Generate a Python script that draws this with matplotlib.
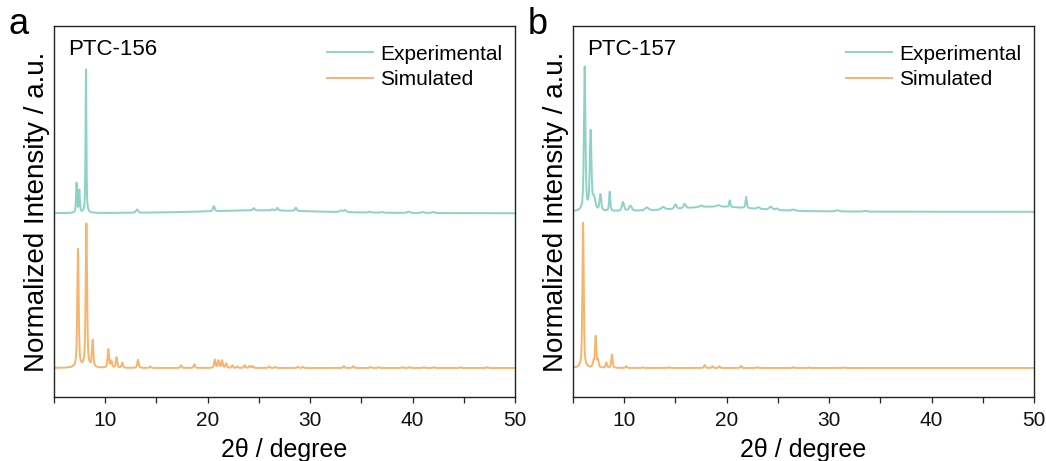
import numpy as np
import matplotlib
matplotlib.use("Agg")
import matplotlib.pyplot as plt
from matplotlib.ticker import MultipleLocator

plt.rcParams['font.family'] = ['Liberation Sans', 'DejaVu Sans']

# ---- data: peak positions (2theta), heights, FWHM ----
# PTC-156 experimental
exp156_pos = [7.20, 7.47, 8.12, 13.1, 20.6, 24.5, 26.3, 26.8, 28.6, 33.0, 33.4, 35.8, 37.0, 39.6, 41.0, 42.0, 25.0]
exp156_hgt = [0.20, 0.15, 0.97, 0.022, 0.035, 0.015, 0.008, 0.018, 0.022, 0.01, 0.014, 0.006, 0.005, 0.01, 0.007, 0.007, 0.02]
exp156_wid = [0.12, 0.12, 0.10, 0.25, 0.20, 0.20, 0.2, 0.20, 0.20, 0.3, 0.3, 0.3, 0.3, 0.3, 0.3, 0.3, 14.0]
exp156_offset = 1.045

# PTC-156 simulated
sim156_pos = [7.34, 8.16, 8.77, 10.3, 10.6, 11.1, 11.67, 13.2, 14.4, 17.4, 18.7,
              20.7, 21.05, 21.4, 21.8, 22.4, 22.9, 23.6, 24.1, 24.4, 26.0, 26.6, 28.8, 29.3,
              33.3, 34.2, 35.9, 36.7, 39.0, 39.7, 41.1, 42.1, 44.7, 47.3]
sim156_hgt = [0.80, 0.97, 0.18, 0.125, 0.045, 0.07, 0.035, 0.055, 0.01, 0.018, 0.025,
              0.055, 0.05, 0.05, 0.03, 0.018, 0.01, 0.018, 0.015, 0.012, 0.01, 0.008, 0.008, 0.008,
              0.012, 0.012, 0.008, 0.006, 0.006, 0.006, 0.006, 0.006, 0.005, 0.006]
sim156_wid = [0.16] * len(sim156_pos)

# PTC-157 experimental
exp157_pos = [6.14, 6.72, 7.05, 7.67, 8.58, 9.88, 10.6, 12.2, 13.8, 15.0, 15.9, 17.5,
              19.2, 20.3, 21.9, 23.1, 24.3, 24.9, 26.5, 30.8, 33.5, 19.0]
exp157_hgt = [0.97, 0.53, 0.08, 0.11, 0.13, 0.06, 0.035, 0.02, 0.018, 0.03, 0.03, 0.01,
              0.01, 0.045, 0.075, 0.012, 0.02, 0.01, 0.008, 0.008, 0.005, 0.035]
exp157_wid = [0.17, 0.19, 0.3, 0.2, 0.14, 0.25, 0.3, 0.4, 0.4, 0.25, 0.25, 0.4,
              0.4, 0.15, 0.15, 0.3, 0.35, 0.3, 0.4, 0.4, 0.4, 9.0]
exp157_offset = 1.055

# PTC-157 simulated
sim157_pos = [5.98, 7.00, 7.21, 7.44, 8.25, 8.80, 10.2, 11.8, 14.4, 17.85, 18.6, 19.3,
              21.4, 23.0, 26.5, 28.0, 31.5]
sim157_hgt = [0.98, 0.04, 0.21, 0.05, 0.035, 0.09, 0.012, 0.005, 0.005, 0.02, 0.012, 0.012,
              0.014, 0.006, 0.006, 0.004, 0.004]
sim157_wid = [0.15] * len(sim157_pos)

panel_titles = ["PTC-156", "PTC-157"]
panel_letters = ["a", "b"]
series_names = ["Experimental", "Simulated"]
xticks_major = [10, 20, 30, 40, 50]

EXP_COLOR = "#8dd3c5"
SIM_COLOR = "#f7b46c"


def profile(x, pos, hgt, wid, eta=0.6):
    y = np.zeros_like(x)
    for p, h, w in zip(pos, hgt, wid):
        d = (x - p) / (w / 2.0)
        lor = 1.0 / (1.0 + d ** 2)
        gau = np.exp(-np.log(2) * d ** 2)
        y += h * (eta * lor + (1 - eta) * gau)
    return y


x = np.linspace(5, 50, 9001)

fig = plt.figure(figsize=(10.46, 4.61), dpi=100)
ax_a = fig.add_axes([54 / 1046, 1 - 397 / 461, 461 / 1046, 371 / 461])
ax_b = fig.add_axes([573 / 1046, 1 - 397 / 461, 461 / 1046, 371 / 461])

datasets = [
    (ax_a, (exp156_pos, exp156_hgt, exp156_wid, exp156_offset), (sim156_pos, sim156_hgt, sim156_wid)),
    (ax_b, (exp157_pos, exp157_hgt, exp157_wid, exp157_offset), (sim157_pos, sim157_hgt, sim157_wid)),
]

for i, (ax, e, s) in enumerate(datasets):
    ye = profile(x, e[0], e[1], e[2]) + e[3]
    ys = profile(x, s[0], s[1], s[2])
    ax.plot(x, ye, color=EXP_COLOR, lw=1.4, label=series_names[0])
    ax.plot(x, ys, color=SIM_COLOR, lw=1.4, label=series_names[1])
    ax.set_xlim(5, 50)
    ax.set_ylim(-0.196, 2.311)
    ax.set_xticks(xticks_major)
    ax.xaxis.set_minor_locator(MultipleLocator(5))
    ax.tick_params(axis='x', which='both', direction='out', length=4, width=0.9,
                   labelsize=15, pad=6, colors='#222222')
    ax.tick_params(axis='x', which='major', labelcolor='#111111')
    ax.set_yticks([])
    for sp in ax.spines.values():
        sp.set_linewidth(1.0)
        sp.set_color('#222222')
    ax.set_xlabel("2θ / degree", fontsize=18, labelpad=6)
    ax.set_ylabel("Normalized Intensity / a.u.", fontsize=20, labelpad=3)
    ax.text(0.03, 0.965, panel_titles[i], transform=ax.transAxes, fontsize=16,
            va='top', ha='left')
    leg = ax.legend(loc='upper right', frameon=False, fontsize=15,
                    handlelength=2.2, handletextpad=0.35, labelspacing=0.3,
                    borderaxespad=0.0, bbox_to_anchor=(0.99, 0.972))
    fig.text(ax.get_position().x0 - 0.034, 0.985, panel_letters[i], fontsize=26,
             va='top', ha='center')

fig.savefig("out.png", dpi=100)
